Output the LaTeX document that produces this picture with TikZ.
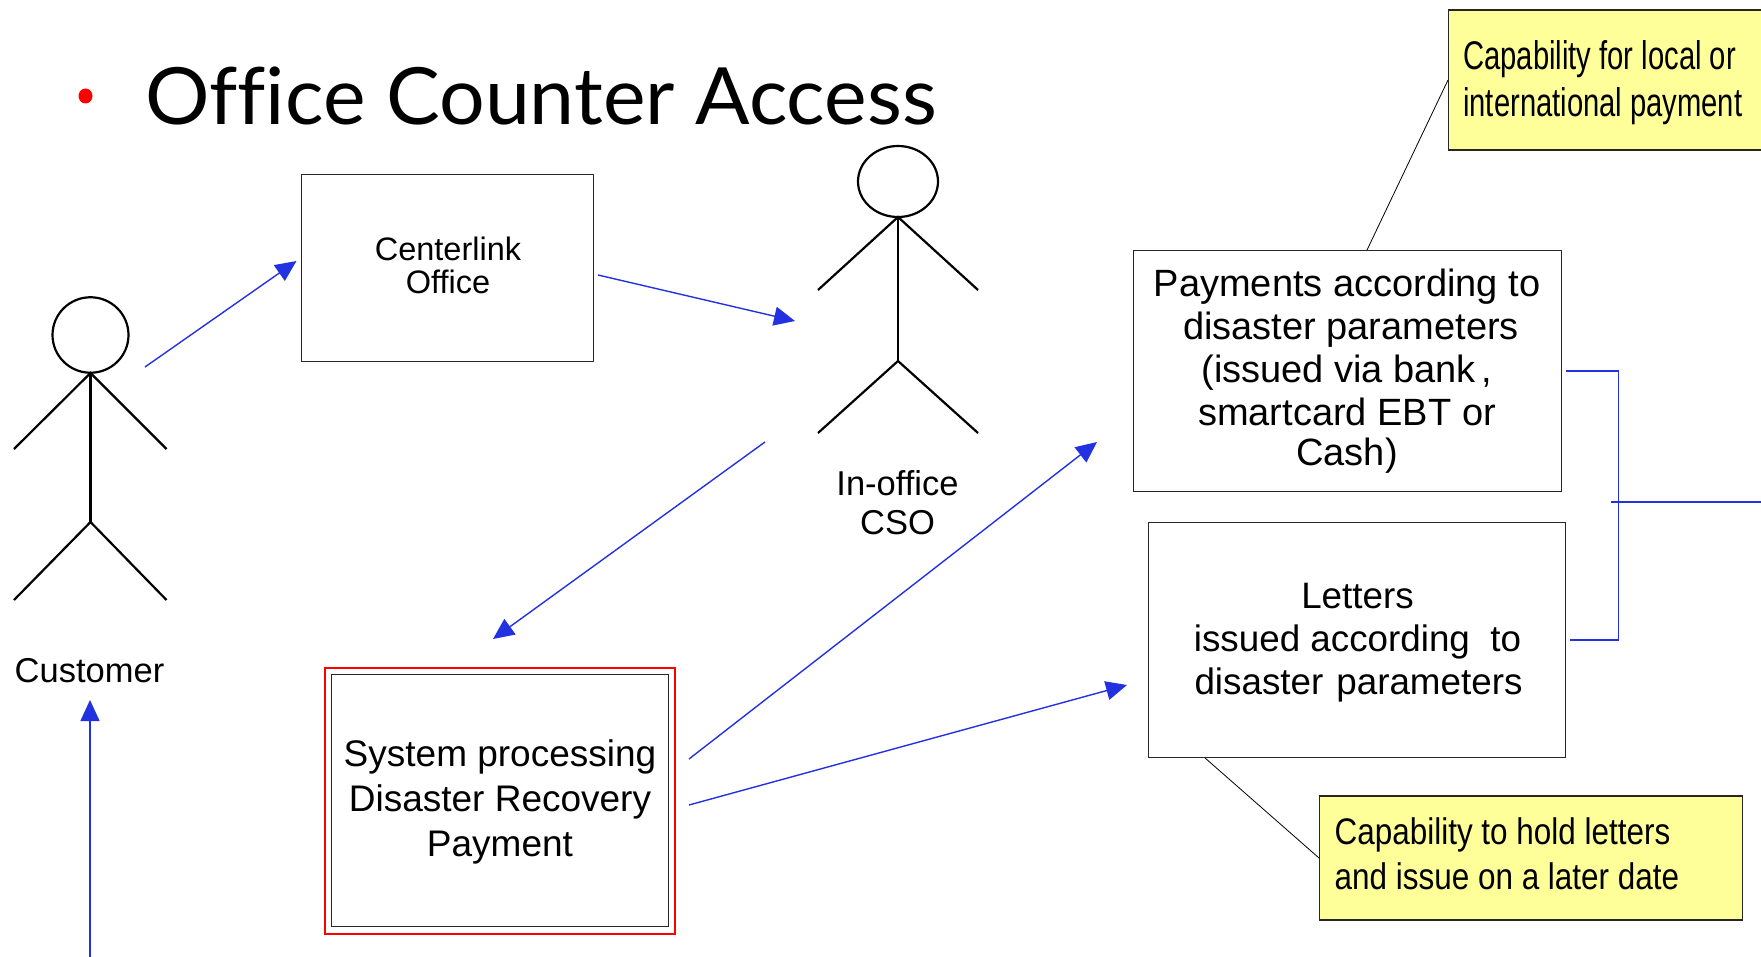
\documentclass[tikz,border=0pt]{standalone}
\usepackage{fontspec}
\setmainfont{Liberation Sans}
\newfontfamily\noteA[FakeStretch=0.73]{Liberation Sans}
\newfontfamily\noteB[FakeStretch=0.85]{Liberation Sans}
\newfontfamily\titlefont[FakeStretch=1.02,Ligatures=NoCommon]{Lato}
\usetikzlibrary{arrows.meta,shapes.geometric,calc}
\definecolor{flow}{RGB}{35,50,225}
\definecolor{notefill}{RGB}{255,255,153}
\tikzset{
  boxnode/.style={draw=black!85,line width=0.9pt,inner sep=0pt,align=center,text=black},
  boxtext/.style={inner sep=0pt,align=center,text=black},
  notenode/.style={draw=black!85,line width=1.1pt,fill=notefill,inner sep=0pt},
  notetext/.style={inner sep=0pt,align=left,text=black},
  flowline/.style={draw=flow,line width=1.4pt,-{Triangle[length=21pt,width=19pt]}},
  plainflow/.style={draw=flow,line width=1.4pt},
  leader/.style={draw=black,line width=0.8pt},
  headnode/.style={draw=black,line width=2.2pt,shape=ellipse,inner sep=0pt},
  limb/.style={draw=black,line width=2.2pt},
  caption/.style={inner sep=0pt,align=center,font=\fontsize{34.5}{39}\selectfont},
}
\begin{document}
\begin{tikzpicture}[x=1pt,y=-1pt]
\useasboundingbox (0,0) rectangle (1761,957);
% title
\node[shape=ellipse,fill=red,inner sep=0pt,minimum width=14pt,minimum height=15pt] (bullet) at (85.5,96) {};
\node[anchor=base west,inner sep=0pt,font=\titlefont\fontsize{79}{90}\selectfont] (title) at (145,125) {Office Counter Access};
% customer
\node[headnode,minimum width=76pt,minimum height=75.5pt] (custHead) at (90.5,335) {};
\coordinate (custNeck) at (90.5,373);
\coordinate (custHip) at (90.5,522);
\coordinate (custArmL) at (14,449);
\coordinate (custArmR) at (166.5,449);
\coordinate (custLegL) at (14,600);
\coordinate (custLegR) at (166.5,600);
\draw[limb] (custArmL) -- (custNeck) -- (custArmR);
\draw[limb] (custNeck) -- (custHip);
\draw[limb] (custLegL) -- (custHip) -- (custLegR);
\node[caption,anchor=base] (custLabel) at (89.5,682) {Customer};
% CSO
\node[headnode,minimum width=80pt,minimum height=71pt] (csoHead) at (898,181.5) {};
\coordinate (csoNeck) at (898,217);
\coordinate (csoHip) at (898,361);
\coordinate (csoArmL) at (818,290);
\coordinate (csoArmR) at (978,290);
\coordinate (csoLegL) at (818,433);
\coordinate (csoLegR) at (978,433);
\draw[limb] (csoArmL) -- (csoNeck) -- (csoArmR);
\draw[limb] (csoNeck) -- (csoHip);
\draw[limb] (csoLegL) -- (csoHip) -- (csoLegR);
\node[caption,anchor=base] (csoLabel) at (897.5,534.5) {In-office\\[0pt]CSO};
% boxes
\node[boxnode,minimum width=292pt,minimum height=187pt] (office) at (447,267.5) {};
\node[boxtext,font=\fontsize{32.5}{33}\selectfont] (officeText) at ([xshift=1pt,yshift=2.2pt]office.center) {Centerlink\\Office};
\node[boxnode,minimum width=428pt,minimum height=241pt,font=\fontsize{38}{43}\selectfont] (payments) at (1347,371) {Payments according to\\\hspace{8pt}disaster parameters\\(issued via bank\hspace{6pt},\\smartcard EBT or\\[-3pt]Cash)};
\node[boxnode,minimum width=416.5pt,minimum height=235pt] (letters) at (1357,640) {};
\node[boxtext,font=\fontsize{36.8}{43}\selectfont] (lettersText) at ([xshift=0.5pt,yshift=-2.5pt]letters.center) {Letters\\issued according \ to\\\hspace{2pt}disaster\hspace{13pt}parameters};
\node[draw=red,line width=2pt,minimum width=350pt,minimum height=266pt,inner sep=0pt] (sysOuter) at (500,800.5) {};
\node[boxnode,minimum width=336.5pt,minimum height=252pt] (system) at (500,800) {};
\node[boxtext,font=\fontsize{37}{45}\selectfont] (systemText) at ([yshift=-2.2pt]system.center) {System processing\\Disaster Recovery\\Payment};
\node[notenode,minimum width=315pt,minimum height=140pt,anchor=west] (noteA) at (1448,80) {};
\node[notetext,anchor=west,font=\noteA\fontsize{40}{47}\selectfont] (noteAText) at ([xshift=15pt,yshift=-2.5pt]noteA.west) {Capability for local or\\international payment};
\node[notenode,minimum width=423pt,minimum height=124pt,anchor=west] (noteB) at (1319,858) {};
\node[notetext,anchor=west,font=\noteB\fontsize{37}{45}\selectfont] (noteBText) at ([xshift=15.5pt,yshift=4pt]noteB.west) {Capability to hold letters\\and issue on a later date};
% note leaders
\draw[leader] ([xshift=20pt]payments.north) -- (noteA.west);
\draw[leader] ([xshift=-152pt]letters.south) -- (noteB.west);
% flow ends
\coordinate (f1s) at (145,367);
\coordinate (f1e) at (296.5,261);
\coordinate (f2s) at (598,275);
\coordinate (f2e) at (795,321);
\coordinate (f3s) at (765,442);
\coordinate (f3e) at (493,639);
\coordinate (f4s) at (689,759);
\coordinate (f4e) at (1097,442);
\coordinate (f5s) at (689,805);
\coordinate (f5e) at (1127,685);
\coordinate (f6s) at (90,957);
\coordinate (f6e) at (90,700);
\draw[flowline] (f1s) -- (f1e);
\draw[flowline] (f2s) -- (f2e);
\draw[flowline] (f3s) -- (f3e);
\draw[flowline] (f4s) -- (f4e);
\draw[flowline] (f5s) -- (f5e);
\draw[flowline] (f6s) -- (f6e);
% bracket
\coordinate (brA) at (1566,371);
\coordinate (brB) at (1570,640);
\coordinate (brX) at (1618.5,371);
\coordinate (brY) at (1618.5,640);
\coordinate (outS) at (1611,502);
\coordinate (outE) at (1761,502);
\draw[plainflow] (brA) -- (brX) -- (brY) -- (brB);
\draw[plainflow] (outS) -- (outE);
\end{tikzpicture}
\end{document}
